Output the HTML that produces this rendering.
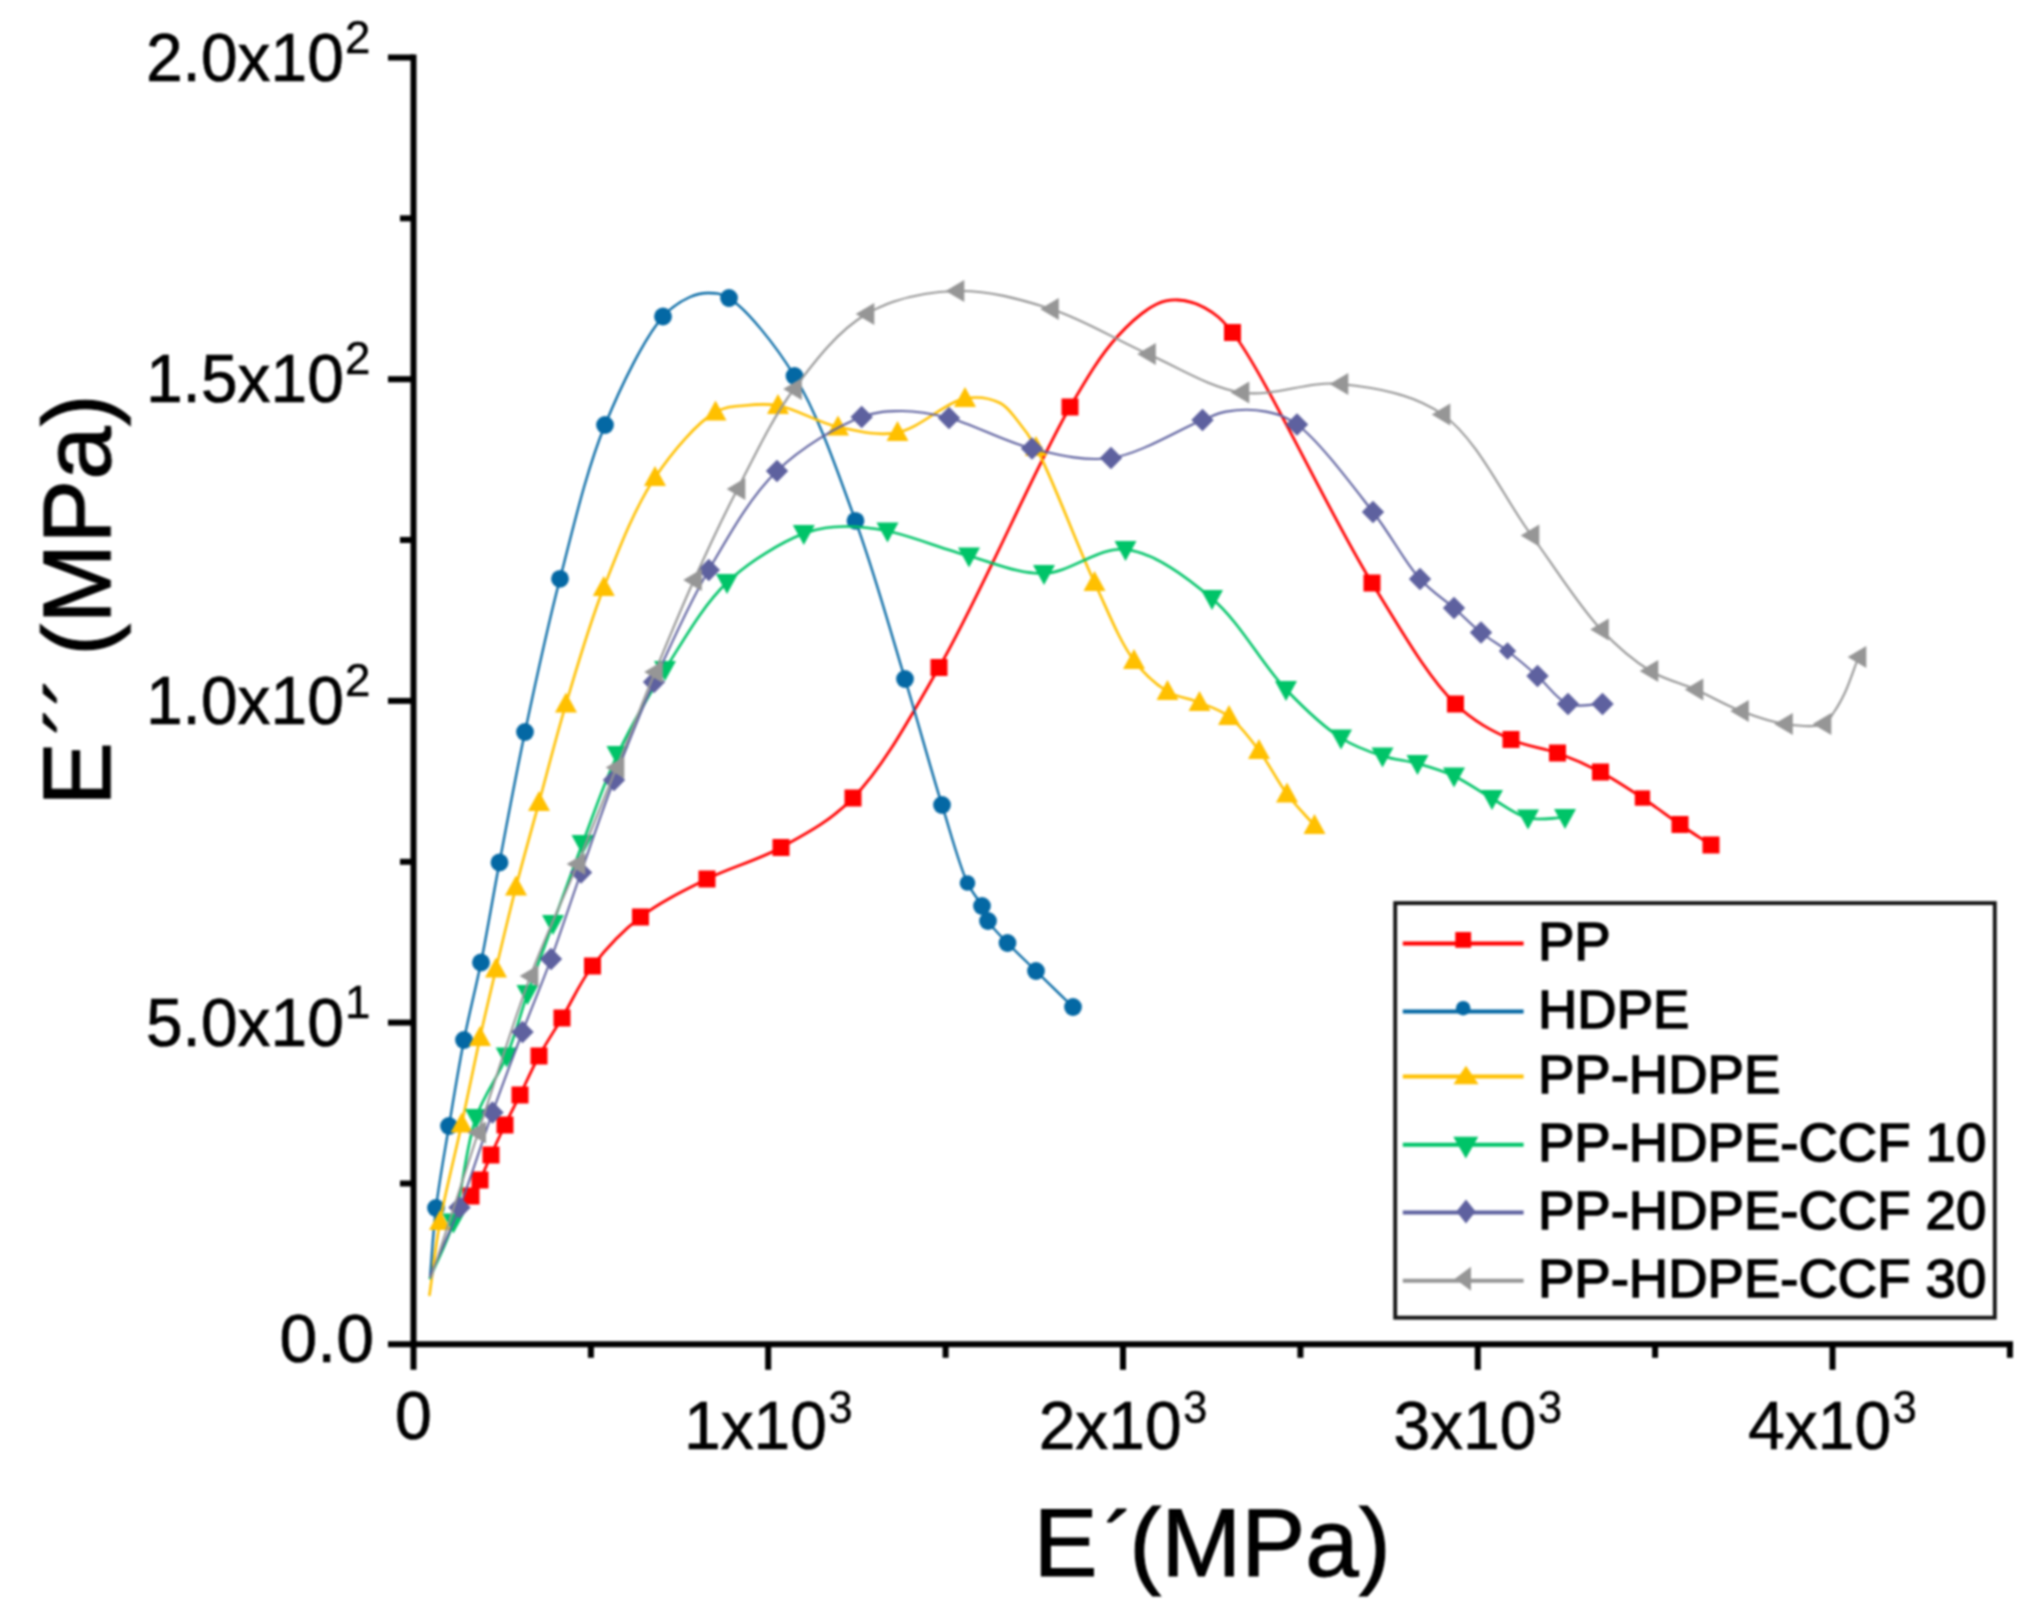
<!DOCTYPE html>
<html lang="en"><head><meta charset="utf-8"><title>E&#180;&#180; vs E&#180;</title>
<style>
html,body{margin:0;padding:0;background:#fff;}
body{width:2040px;height:1620px;overflow:hidden;}
svg{display:block;}
text{font-family:"Liberation Sans",Arial,Helvetica,sans-serif;fill:#000;}
.tk{font-size:69px;stroke:#000;stroke-width:0.7px;}
.sp{font-size:47px;stroke:#000;stroke-width:0.5px;}
.ti{font-size:96px;stroke:#000;stroke-width:1.1px;}
.lg{font-size:54.5px;stroke:#000;stroke-width:1.5px;}
</style></head><body>
<svg width="2040" height="1620" viewBox="0 0 2040 1620">
<defs><filter id="soft" x="-2%" y="-2%" width="104%" height="104%" color-interpolation-filters="sRGB"><feGaussianBlur stdDeviation="0.8"/></filter></defs>
<rect width="2040" height="1620" fill="#fff"/>
<g filter="url(#soft)">
<g>
<path d="M471.0 1196.0 C474.0 1190.7 477.0 1186.0 480.0 1180.0 C483.7 1172.7 487.1 1163.7 491.0 1155.0 C495.3 1145.4 500.2 1135.0 505.0 1125.0 C509.8 1115.0 514.7 1105.7 520.0 1095.0 C526.0 1082.9 532.0 1068.8 539.0 1056.0 C546.0 1043.1 553.8 1031.7 562.0 1018.0 C571.5 1002.1 580.0 982.4 592.5 966.0 C605.8 948.6 622.1 931.2 640.5 917.0 C660.0 902.0 683.9 890.5 707.0 879.0 C730.7 867.2 757.1 860.6 781.0 847.5 C805.9 833.8 830.1 821.4 853.0 798.0 C883.6 766.8 908.9 719.5 939.0 667.5 C980.1 596.5 1035.8 465.6 1070.0 407.0 C1088.4 375.5 1100.6 355.1 1117.0 337.0 C1129.9 322.8 1145.1 309.6 1157.0 304.0 C1164.6 300.4 1170.6 299.6 1178.0 300.0 C1186.5 300.4 1196.5 303.2 1205.0 308.0 C1214.8 313.4 1221.4 318.6 1232.5 332.5 C1263.6 371.3 1329.9 515.3 1372.0 583.0 C1402.1 631.5 1427.8 677.2 1455.5 704.0 C1474.1 721.9 1492.7 731.2 1511.0 739.5 C1526.7 746.6 1542.5 747.5 1557.5 753.0 C1572.3 758.4 1586.5 764.6 1600.5 772.0 C1614.9 779.6 1629.0 789.1 1642.5 798.0 C1655.5 806.6 1668.0 816.3 1680.0 824.5 C1690.8 831.9 1700.7 838.2 1711.0 845.0" fill="none" stroke="#FF0000" stroke-width="2.8" stroke-linecap="round" stroke-linejoin="round"/>
<rect x="462.5" y="1187.5" width="17.0" height="17.0" fill="#FF0000"/>
<rect x="471.5" y="1171.5" width="17.0" height="17.0" fill="#FF0000"/>
<rect x="482.5" y="1146.5" width="17.0" height="17.0" fill="#FF0000"/>
<rect x="496.5" y="1116.5" width="17.0" height="17.0" fill="#FF0000"/>
<rect x="511.5" y="1086.5" width="17.0" height="17.0" fill="#FF0000"/>
<rect x="530.5" y="1047.5" width="17.0" height="17.0" fill="#FF0000"/>
<rect x="553.5" y="1009.5" width="17.0" height="17.0" fill="#FF0000"/>
<rect x="584.0" y="957.5" width="17.0" height="17.0" fill="#FF0000"/>
<rect x="632.0" y="908.5" width="17.0" height="17.0" fill="#FF0000"/>
<rect x="698.5" y="870.5" width="17.0" height="17.0" fill="#FF0000"/>
<rect x="772.5" y="839.0" width="17.0" height="17.0" fill="#FF0000"/>
<rect x="844.5" y="789.5" width="17.0" height="17.0" fill="#FF0000"/>
<rect x="930.5" y="659.0" width="17.0" height="17.0" fill="#FF0000"/>
<rect x="1061.5" y="398.5" width="17.0" height="17.0" fill="#FF0000"/>
<rect x="1224.0" y="324.0" width="17.0" height="17.0" fill="#FF0000"/>
<rect x="1363.5" y="574.5" width="17.0" height="17.0" fill="#FF0000"/>
<rect x="1447.0" y="695.5" width="17.0" height="17.0" fill="#FF0000"/>
<rect x="1502.5" y="731.0" width="17.0" height="17.0" fill="#FF0000"/>
<rect x="1549.0" y="744.5" width="17.0" height="17.0" fill="#FF0000"/>
<rect x="1592.0" y="763.5" width="17.0" height="17.0" fill="#FF0000"/>
<rect x="1634.8" y="790.4" width="15.3" height="15.3" fill="#FF0000"/>
<rect x="1671.5" y="816.0" width="17.0" height="17.0" fill="#FF0000"/>
<rect x="1702.5" y="836.5" width="17.0" height="17.0" fill="#FF0000"/>
</g>
<g>
<path d="M430.0 1278.0 C432.0 1254.7 433.0 1232.2 436.0 1208.0 C439.2 1181.7 444.4 1153.6 449.0 1126.0 C453.7 1097.7 458.5 1067.9 464.0 1040.0 C469.2 1013.4 475.4 990.0 481.0 962.5 C487.3 931.3 492.7 898.0 499.5 862.5 C507.2 821.9 515.4 777.2 525.0 732.0 C535.4 682.9 546.7 629.7 560.0 578.8 C573.4 527.3 586.2 470.9 605.0 425.0 C621.4 384.7 645.0 337.1 663.0 316.5 C672.4 305.8 681.5 300.8 690.0 297.0 C696.3 294.2 701.8 293.0 708.0 293.0 C714.7 293.1 721.0 293.1 729.0 298.0 C746.3 308.7 775.1 344.3 794.5 376.0 C818.6 415.4 837.3 471.0 855.5 520.8 C874.2 571.9 889.9 629.2 905.0 679.0 C918.4 723.3 930.5 768.1 942.0 805.0 C951.1 834.2 959.1 865.0 967.5 883.0 C972.4 893.3 978.4 899.0 982.0 906.0 C984.8 911.4 984.8 915.8 988.0 921.0 C992.3 928.0 1000.2 935.4 1007.5 943.0 C1016.0 951.9 1025.9 961.1 1036.0 971.0 C1047.5 982.3 1060.7 995.0 1073.0 1007.0" fill="none" stroke="#0468A4" stroke-width="2.3" stroke-linecap="round" stroke-linejoin="round"/>
<circle cx="436.0" cy="1208.0" r="8.9" fill="#0468A4"/>
<circle cx="449.0" cy="1126.0" r="8.9" fill="#0468A4"/>
<circle cx="464.0" cy="1040.0" r="8.9" fill="#0468A4"/>
<circle cx="481.0" cy="962.5" r="8.9" fill="#0468A4"/>
<circle cx="499.5" cy="862.5" r="8.9" fill="#0468A4"/>
<circle cx="525.0" cy="732.0" r="8.9" fill="#0468A4"/>
<circle cx="560.0" cy="578.8" r="8.9" fill="#0468A4"/>
<circle cx="605.0" cy="425.0" r="8.9" fill="#0468A4"/>
<circle cx="663.0" cy="316.5" r="8.9" fill="#0468A4"/>
<circle cx="729.0" cy="298.0" r="8.9" fill="#0468A4"/>
<circle cx="794.5" cy="376.0" r="8.9" fill="#0468A4"/>
<circle cx="855.5" cy="520.8" r="8.9" fill="#0468A4"/>
<circle cx="905.0" cy="679.0" r="8.9" fill="#0468A4"/>
<circle cx="942.0" cy="805.0" r="8.9" fill="#0468A4"/>
<circle cx="967.5" cy="883.0" r="7.8" fill="#0468A4"/>
<circle cx="982.0" cy="906.0" r="8.9" fill="#0468A4"/>
<circle cx="988.0" cy="921.0" r="8.9" fill="#0468A4"/>
<circle cx="1007.5" cy="943.0" r="8.9" fill="#0468A4"/>
<circle cx="1036.0" cy="971.0" r="8.9" fill="#0468A4"/>
<circle cx="1073.0" cy="1007.0" r="8.9" fill="#0468A4"/>
</g>
<g>
<path d="M429.5 1295.0 C433.0 1270.5 435.2 1247.6 440.0 1221.5 C445.5 1191.2 454.9 1155.5 461.7 1124.0 C468.1 1094.3 474.0 1064.6 480.0 1037.5 C485.4 1013.3 490.3 992.8 496.0 969.0 C502.2 942.9 508.9 914.5 516.0 887.0 C523.2 859.0 531.0 831.7 539.0 802.5 C547.6 770.9 555.8 738.1 566.0 704.0 C577.2 666.7 588.9 625.3 603.8 587.5 C618.6 549.8 634.4 508.1 655.0 477.5 C672.6 451.2 697.4 422.4 715.5 412.0 C726.0 406.0 734.8 406.6 745.0 405.5 C755.6 404.3 765.6 403.3 778.0 405.5 C795.3 408.5 817.8 422.5 838.0 427.0 C857.6 431.3 877.6 436.3 897.5 432.5 C919.9 428.3 945.7 401.8 965.0 398.5 C978.2 396.2 991.0 398.6 1000.0 403.0 C1007.5 406.7 1011.5 413.4 1017.0 420.0 C1023.5 427.8 1028.7 434.4 1036.0 447.5 C1051.3 475.0 1076.4 543.9 1094.5 582.5 C1108.5 612.3 1119.5 641.3 1134.0 660.5 C1144.5 674.4 1155.7 684.4 1167.5 691.5 C1177.7 697.6 1189.2 698.3 1199.5 702.5 C1209.7 706.6 1219.8 709.6 1229.0 716.5 C1239.9 724.7 1249.6 738.1 1259.0 750.5 C1269.0 763.8 1277.2 781.0 1287.0 794.0 C1295.8 805.7 1305.3 815.0 1314.5 825.5" fill="none" stroke="#FFC000" stroke-width="2.6" stroke-linecap="round" stroke-linejoin="round"/>
<path d="M440.0 1210.0 L451.0 1230.0 L429.0 1230.0Z" fill="#FFC000"/>
<path d="M461.7 1112.5 L472.7 1132.5 L450.7 1132.5Z" fill="#FFC000"/>
<path d="M480.0 1026.0 L491.0 1046.0 L469.0 1046.0Z" fill="#FFC000"/>
<path d="M496.0 957.5 L507.0 977.5 L485.0 977.5Z" fill="#FFC000"/>
<path d="M516.0 875.5 L527.0 895.5 L505.0 895.5Z" fill="#FFC000"/>
<path d="M539.0 791.0 L550.0 811.0 L528.0 811.0Z" fill="#FFC000"/>
<path d="M566.0 692.5 L577.0 712.5 L555.0 712.5Z" fill="#FFC000"/>
<path d="M603.8 576.0 L614.8 596.0 L592.8 596.0Z" fill="#FFC000"/>
<path d="M655.0 466.0 L666.0 486.0 L644.0 486.0Z" fill="#FFC000"/>
<path d="M715.5 400.5 L726.5 420.5 L704.5 420.5Z" fill="#FFC000"/>
<path d="M778.0 394.0 L789.0 414.0 L767.0 414.0Z" fill="#FFC000"/>
<path d="M838.0 415.5 L849.0 435.5 L827.0 435.5Z" fill="#FFC000"/>
<path d="M897.5 421.0 L908.5 441.0 L886.5 441.0Z" fill="#FFC000"/>
<path d="M965.0 387.0 L976.0 407.0 L954.0 407.0Z" fill="#FFC000"/>
<path d="M1036.0 436.0 L1047.0 456.0 L1025.0 456.0Z" fill="#FFC000"/>
<path d="M1094.5 571.0 L1105.5 591.0 L1083.5 591.0Z" fill="#FFC000"/>
<path d="M1134.0 649.0 L1145.0 669.0 L1123.0 669.0Z" fill="#FFC000"/>
<path d="M1167.5 680.0 L1178.5 700.0 L1156.5 700.0Z" fill="#FFC000"/>
<path d="M1199.5 691.0 L1210.5 711.0 L1188.5 711.0Z" fill="#FFC000"/>
<path d="M1229.0 705.0 L1240.0 725.0 L1218.0 725.0Z" fill="#FFC000"/>
<path d="M1259.0 739.0 L1270.0 759.0 L1248.0 759.0Z" fill="#FFC000"/>
<path d="M1287.0 782.5 L1298.0 802.5 L1276.0 802.5Z" fill="#FFC000"/>
<path d="M1314.5 814.0 L1325.5 834.0 L1303.5 834.0Z" fill="#FFC000"/>
</g>
<g>
<path d="M430.0 1278.0 C437.8 1259.3 446.6 1243.9 453.5 1222.0 C462.6 1192.9 465.6 1147.2 476.0 1117.5 C484.4 1093.7 498.1 1076.9 506.7 1056.0 C515.2 1035.5 520.1 1014.9 527.5 993.5 C535.4 970.8 544.2 947.6 553.0 923.5 C562.5 897.7 572.1 870.8 582.5 843.5 C593.5 814.6 603.8 783.4 617.5 754.5 C631.3 725.4 647.3 697.5 665.0 669.5 C683.6 640.2 702.7 605.6 727.0 582.5 C749.5 561.2 781.3 542.2 803.8 533.5 C819.0 527.6 831.1 526.9 845.0 526.5 C859.0 526.1 871.2 527.7 887.5 531.0 C910.5 535.7 942.3 548.8 969.0 556.0 C994.4 562.9 1018.6 574.2 1044.0 573.5 C1070.7 572.7 1098.6 546.4 1125.5 549.5 C1154.6 552.8 1186.1 576.6 1212.0 598.5 C1240.1 622.3 1262.2 664.7 1286.0 689.5 C1304.9 709.1 1323.1 726.6 1341.0 738.0 C1355.1 746.9 1369.0 751.7 1382.5 756.0 C1394.5 759.8 1405.8 760.3 1417.5 763.5 C1429.6 766.9 1442.0 770.5 1454.0 776.0 C1466.8 781.9 1479.4 791.4 1492.0 798.5 C1504.1 805.4 1515.5 814.9 1528.0 818.0 C1539.9 820.9 1552.7 817.7 1565.0 817.5" fill="none" stroke="#00C468" stroke-width="2.6" stroke-linecap="round" stroke-linejoin="round"/>
<path d="M453.5 1233.5 L464.5 1213.5 L442.5 1213.5Z" fill="#00C468"/>
<path d="M476.0 1129.0 L487.0 1109.0 L465.0 1109.0Z" fill="#00C468"/>
<path d="M506.7 1067.5 L517.7 1047.5 L495.7 1047.5Z" fill="#00C468"/>
<path d="M527.5 1005.0 L538.5 985.0 L516.5 985.0Z" fill="#00C468"/>
<path d="M553.0 935.0 L564.0 915.0 L542.0 915.0Z" fill="#00C468"/>
<path d="M582.5 855.0 L593.5 835.0 L571.5 835.0Z" fill="#00C468"/>
<path d="M617.5 766.0 L628.5 746.0 L606.5 746.0Z" fill="#00C468"/>
<path d="M665.0 681.0 L676.0 661.0 L654.0 661.0Z" fill="#00C468"/>
<path d="M727.0 594.0 L738.0 574.0 L716.0 574.0Z" fill="#00C468"/>
<path d="M803.8 545.0 L814.8 525.0 L792.8 525.0Z" fill="#00C468"/>
<path d="M887.5 542.5 L898.5 522.5 L876.5 522.5Z" fill="#00C468"/>
<path d="M969.0 567.5 L980.0 547.5 L958.0 547.5Z" fill="#00C468"/>
<path d="M1044.0 585.0 L1055.0 565.0 L1033.0 565.0Z" fill="#00C468"/>
<path d="M1125.5 561.0 L1136.5 541.0 L1114.5 541.0Z" fill="#00C468"/>
<path d="M1212.0 610.0 L1223.0 590.0 L1201.0 590.0Z" fill="#00C468"/>
<path d="M1286.0 701.0 L1297.0 681.0 L1275.0 681.0Z" fill="#00C468"/>
<path d="M1341.0 749.5 L1352.0 729.5 L1330.0 729.5Z" fill="#00C468"/>
<path d="M1382.5 767.5 L1393.5 747.5 L1371.5 747.5Z" fill="#00C468"/>
<path d="M1417.5 775.0 L1428.5 755.0 L1406.5 755.0Z" fill="#00C468"/>
<path d="M1454.0 787.5 L1465.0 767.5 L1443.0 767.5Z" fill="#00C468"/>
<path d="M1492.0 810.0 L1503.0 790.0 L1481.0 790.0Z" fill="#00C468"/>
<path d="M1528.0 829.5 L1539.0 809.5 L1517.0 809.5Z" fill="#00C468"/>
<path d="M1565.0 829.0 L1576.0 809.0 L1554.0 809.0Z" fill="#00C468"/>
</g>
<g>
<path d="M430.0 1276.0 C439.8 1253.2 449.8 1232.4 459.5 1207.5 C470.7 1178.6 481.6 1142.8 492.5 1112.5 C502.6 1084.5 512.5 1058.1 522.5 1032.0 C532.0 1007.0 541.6 984.5 551.0 959.0 C561.1 931.5 570.7 901.8 581.0 872.5 C591.7 842.2 602.1 811.1 614.0 780.0 C626.4 747.7 639.0 715.5 654.0 682.0 C670.3 645.6 688.0 605.5 708.8 570.0 C729.1 535.2 750.0 497.0 777.0 471.0 C801.7 447.2 837.8 425.9 861.7 417.0 C876.9 411.3 888.1 411.0 902.0 411.0 C917.1 411.0 931.4 413.5 949.0 418.0 C973.0 424.1 1004.3 441.8 1032.0 448.5 C1058.3 454.8 1084.2 461.7 1111.0 458.0 C1140.9 453.9 1181.9 427.9 1202.5 420.0 C1212.8 416.0 1217.0 413.2 1226.0 411.6 C1237.4 409.6 1253.7 409.2 1266.0 411.6 C1277.2 413.8 1285.5 416.2 1297.0 424.5 C1318.3 439.9 1351.3 484.2 1373.0 512.0 C1391.2 535.3 1404.5 562.0 1420.0 579.0 C1431.4 591.6 1443.4 598.7 1454.0 608.0 C1463.6 616.4 1471.8 625.2 1481.0 632.5 C1489.7 639.4 1498.5 644.2 1507.5 651.0 C1517.3 658.5 1527.6 667.3 1537.5 676.0 C1547.7 685.0 1556.6 699.5 1568.0 704.0 C1578.4 708.1 1591.0 704.0 1602.5 704.0" fill="none" stroke="#5E619F" stroke-width="2.1" stroke-linecap="round" stroke-linejoin="round"/>
<path d="M459.5 1196.3 L470.7 1207.5 L459.5 1218.7 L448.3 1207.5Z" fill="#5E619F"/>
<path d="M492.5 1101.3 L503.7 1112.5 L492.5 1123.7 L481.3 1112.5Z" fill="#5E619F"/>
<path d="M522.5 1020.8 L533.7 1032.0 L522.5 1043.2 L511.3 1032.0Z" fill="#5E619F"/>
<path d="M551.0 947.8 L562.2 959.0 L551.0 970.2 L539.8 959.0Z" fill="#5E619F"/>
<path d="M581.0 861.3 L592.2 872.5 L581.0 883.7 L569.8 872.5Z" fill="#5E619F"/>
<path d="M614.0 768.8 L625.2 780.0 L614.0 791.2 L602.8 780.0Z" fill="#5E619F"/>
<path d="M654.0 670.8 L665.2 682.0 L654.0 693.2 L642.8 682.0Z" fill="#5E619F"/>
<path d="M708.8 558.8 L720.0 570.0 L708.8 581.2 L697.5 570.0Z" fill="#5E619F"/>
<path d="M777.0 459.8 L788.2 471.0 L777.0 482.2 L765.8 471.0Z" fill="#5E619F"/>
<path d="M861.7 405.8 L872.9 417.0 L861.7 428.2 L850.5 417.0Z" fill="#5E619F"/>
<path d="M949.0 406.8 L960.2 418.0 L949.0 429.2 L937.8 418.0Z" fill="#5E619F"/>
<path d="M1032.0 437.3 L1043.2 448.5 L1032.0 459.7 L1020.8 448.5Z" fill="#5E619F"/>
<path d="M1111.0 446.8 L1122.2 458.0 L1111.0 469.2 L1099.8 458.0Z" fill="#5E619F"/>
<path d="M1202.5 408.8 L1213.7 420.0 L1202.5 431.2 L1191.3 420.0Z" fill="#5E619F"/>
<path d="M1297.0 413.3 L1308.2 424.5 L1297.0 435.7 L1285.8 424.5Z" fill="#5E619F"/>
<path d="M1373.0 500.8 L1384.2 512.0 L1373.0 523.2 L1361.8 512.0Z" fill="#5E619F"/>
<path d="M1420.0 567.8 L1431.2 579.0 L1420.0 590.2 L1408.8 579.0Z" fill="#5E619F"/>
<path d="M1454.0 596.8 L1465.2 608.0 L1454.0 619.2 L1442.8 608.0Z" fill="#5E619F"/>
<path d="M1481.0 621.3 L1492.2 632.5 L1481.0 643.7 L1469.8 632.5Z" fill="#5E619F"/>
<path d="M1507.5 642.3 L1516.2 651.0 L1507.5 659.7 L1498.8 651.0Z" fill="#5E619F"/>
<path d="M1537.5 664.8 L1548.7 676.0 L1537.5 687.2 L1526.3 676.0Z" fill="#5E619F"/>
<path d="M1568.0 692.8 L1579.2 704.0 L1568.0 715.2 L1556.8 704.0Z" fill="#5E619F"/>
<path d="M1602.5 692.8 L1613.7 704.0 L1602.5 715.2 L1591.3 704.0Z" fill="#5E619F"/>
</g>
<g>
<path d="M431.0 1278.0 C446.7 1229.5 462.0 1181.8 478.2 1132.5 C495.1 1081.2 512.6 1023.5 530.5 976.0 C545.8 935.2 562.7 900.0 577.5 864.0 C591.2 830.7 603.5 799.6 616.5 767.5 C629.4 735.6 642.0 703.5 655.0 672.0 C667.8 641.0 680.3 610.4 694.0 580.0 C707.8 549.4 721.5 519.8 737.5 489.0 C754.6 456.2 771.8 418.7 794.0 389.0 C815.1 360.7 838.4 330.3 866.5 314.0 C893.0 298.6 926.0 291.9 956.5 291.0 C987.5 290.0 1019.9 299.0 1051.0 309.0 C1083.8 319.5 1115.8 339.9 1148.0 354.0 C1179.3 367.7 1209.3 387.5 1241.5 392.5 C1273.5 397.4 1307.6 380.6 1340.5 384.0 C1374.6 387.5 1412.6 393.5 1442.5 414.5 C1478.0 439.5 1503.6 497.7 1531.5 535.5 C1556.1 568.8 1578.4 605.5 1601.0 629.5 C1617.8 647.4 1633.6 660.8 1650.5 671.0 C1665.2 679.9 1680.5 682.9 1695.5 689.5 C1710.7 696.2 1725.7 705.2 1741.0 711.0 C1755.6 716.6 1770.7 721.9 1785.0 724.0 C1798.1 725.9 1815.2 727.8 1823.5 724.0 C1828.9 721.6 1830.7 716.7 1834.0 712.0 C1837.9 706.5 1841.4 700.1 1845.0 692.5 C1849.7 682.6 1854.0 668.8 1858.5 657.0" fill="none" stroke="#969696" stroke-width="2.1" stroke-linecap="round" stroke-linejoin="round"/>
<path d="M467.4 1132.5 L486.0 1121.5 L486.0 1143.5Z" fill="#969696"/>
<path d="M519.7 976.0 L538.3 965.0 L538.3 987.0Z" fill="#969696"/>
<path d="M566.7 864.0 L585.3 853.0 L585.3 875.0Z" fill="#969696"/>
<path d="M605.7 767.5 L624.3 756.5 L624.3 778.5Z" fill="#969696"/>
<path d="M644.2 672.0 L662.8 661.0 L662.8 683.0Z" fill="#969696"/>
<path d="M683.2 580.0 L701.8 569.0 L701.8 591.0Z" fill="#969696"/>
<path d="M726.7 489.0 L745.3 478.0 L745.3 500.0Z" fill="#969696"/>
<path d="M783.2 389.0 L801.8 378.0 L801.8 400.0Z" fill="#969696"/>
<path d="M855.7 314.0 L874.3 303.0 L874.3 325.0Z" fill="#969696"/>
<path d="M945.7 291.0 L964.3 280.0 L964.3 302.0Z" fill="#969696"/>
<path d="M1040.2 309.0 L1058.8 298.0 L1058.8 320.0Z" fill="#969696"/>
<path d="M1137.2 354.0 L1155.8 343.0 L1155.8 365.0Z" fill="#969696"/>
<path d="M1230.7 392.5 L1249.3 381.5 L1249.3 403.5Z" fill="#969696"/>
<path d="M1329.7 384.0 L1348.3 373.0 L1348.3 395.0Z" fill="#969696"/>
<path d="M1431.7 414.5 L1450.3 403.5 L1450.3 425.5Z" fill="#969696"/>
<path d="M1520.7 535.5 L1539.3 524.5 L1539.3 546.5Z" fill="#969696"/>
<path d="M1590.2 629.5 L1608.8 618.5 L1608.8 640.5Z" fill="#969696"/>
<path d="M1639.7 671.0 L1658.3 660.0 L1658.3 682.0Z" fill="#969696"/>
<path d="M1684.7 689.5 L1703.3 678.5 L1703.3 700.5Z" fill="#969696"/>
<path d="M1730.2 711.0 L1748.8 700.0 L1748.8 722.0Z" fill="#969696"/>
<path d="M1774.2 724.0 L1792.8 713.0 L1792.8 735.0Z" fill="#969696"/>
<path d="M1812.7 724.0 L1831.3 713.0 L1831.3 735.0Z" fill="#969696"/>
<path d="M1847.7 657.0 L1866.3 646.0 L1866.3 668.0Z" fill="#969696"/>
</g>
<g stroke="#000" stroke-width="6" fill="none">
<path d="M413.5 54.5 V1369.8"/>
<path d="M388.0 1344.3 H2013.0"/>
<path d="M400.0 1183.5 H413.5"/>
<path d="M388.0 1022.6 H413.5"/>
<path d="M400.0 861.8 H413.5"/>
<path d="M388.0 700.9 H413.5"/>
<path d="M400.0 540.0 H413.5"/>
<path d="M388.0 379.2 H413.5"/>
<path d="M400.0 218.3 H413.5"/>
<path d="M388.0 57.5 H413.5"/>
<path d="M590.9 1344.3 V1357.8"/>
<path d="M768.2 1344.3 V1369.8"/>
<path d="M945.6 1344.3 V1357.8"/>
<path d="M1123.0 1344.3 V1369.8"/>
<path d="M1300.4 1344.3 V1357.8"/>
<path d="M1477.8 1344.3 V1369.8"/>
<path d="M1655.1 1344.3 V1357.8"/>
<path d="M1832.5 1344.3 V1369.8"/>
<path d="M2009.9 1344.3 V1357.8"/>
</g>
<text class="tk" transform="translate(343.8 80.5) scale(0.955 1)" text-anchor="end">2.0x10</text>
<text class="sp" transform="translate(345.0 52.5) scale(0.970 1)" text-anchor="start">2</text>
<text class="tk" transform="translate(343.8 402.2) scale(0.955 1)" text-anchor="end">1.5x10</text>
<text class="sp" transform="translate(345.0 374.2) scale(0.970 1)" text-anchor="start">2</text>
<text class="tk" transform="translate(343.8 723.9) scale(0.955 1)" text-anchor="end">1.0x10</text>
<text class="sp" transform="translate(345.0 695.9) scale(0.970 1)" text-anchor="start">2</text>
<text class="tk" transform="translate(343.8 1045.6) scale(0.955 1)" text-anchor="end">5.0x10</text>
<text class="sp" transform="translate(345.0 1017.6) scale(0.970 1)" text-anchor="start">1</text>
<text class="tk" transform="translate(374.0 1361.6) scale(0.985 1)" text-anchor="end">0.0</text>
<text class="tk" transform="translate(413.5 1439.3) scale(0.960 1)" text-anchor="middle">0</text>
<text class="tk" transform="translate(826.9 1449.0) scale(0.955 1)" text-anchor="end">1x10</text>
<text class="sp" transform="translate(828.5 1422.6) scale(0.920 1)" text-anchor="start">3</text>
<text class="tk" transform="translate(1181.6 1449.0) scale(0.955 1)" text-anchor="end">2x10</text>
<text class="sp" transform="translate(1183.3 1422.6) scale(0.920 1)" text-anchor="start">3</text>
<text class="tk" transform="translate(1536.3 1449.0) scale(0.955 1)" text-anchor="end">3x10</text>
<text class="sp" transform="translate(1538.0 1422.6) scale(0.920 1)" text-anchor="start">3</text>
<text class="tk" transform="translate(1891.1 1449.0) scale(0.955 1)" text-anchor="end">4x10</text>
<text class="sp" transform="translate(1892.8 1422.6) scale(0.920 1)" text-anchor="start">3</text>
<text class="ti" transform="translate(1033.5 1576.3) scale(1.000 1)" text-anchor="start">E<tspan dx="7" dy="-3.5" font-size="88">&#180;</tspan><tspan dx="-4.5" dy="3.5">(MPa)</tspan></text>
<text class="ti" transform="translate(110.3 806) rotate(-90)">E<tspan dx="7" dy="-3.5" font-size="88">&#180;&#180;</tspan><tspan dx="-6" dy="3.5"> (MPa)</tspan></text>
<rect x="1395.2" y="903.1" width="599.6" height="414.6" fill="#fff" stroke="#161616" stroke-width="3.9"/>
<path d="M1402.8 943.4 H1523.6" stroke="#FF0000" stroke-width="4" fill="none"/>
<rect x="1455.3" y="932.0" width="15.8" height="15.8" fill="#FF0000"/>
<text class="lg" transform="translate(1538.0 960.3) scale(1.000 1)" text-anchor="start">PP</text>
<path d="M1402.8 1011.5 H1523.6" stroke="#0468A4" stroke-width="4" fill="none"/>
<circle cx="1463.2" cy="1008.2" r="7.3" fill="#0468A4"/>
<text class="lg" transform="translate(1538.0 1028.2) scale(1.000 1)" text-anchor="start">HDPE</text>
<path d="M1402.8 1076.4 H1523.6" stroke="#FFC000" stroke-width="4" fill="none"/>
<path d="M1466.0 1065.8 L1478.6 1084.2 L1453.4 1084.2Z" fill="#FFC000"/>
<text class="lg" transform="translate(1538.0 1093.3) scale(1.000 1)" text-anchor="start">PP-HDPE</text>
<path d="M1402.8 1144.7 H1523.6" stroke="#00C468" stroke-width="4" fill="none"/>
<path d="M1465.8 1158.5 L1478.3 1136.7 L1453.3 1136.7Z" fill="#00C468"/>
<text class="lg" transform="translate(1538.0 1161.2) scale(1.000 1)" text-anchor="start">PP-HDPE-CCF 10</text>
<path d="M1402.8 1212.6 H1523.6" stroke="#5E619F" stroke-width="4" fill="none"/>
<path d="M1466.0 1199.6 L1475.6 1211.6 L1466.0 1223.6 L1456.4 1211.6Z" fill="#5E619F"/>
<text class="lg" transform="translate(1538.0 1229.0) scale(1.000 1)" text-anchor="start">PP-HDPE-CCF 20</text>
<path d="M1402.8 1280.8 H1523.6" stroke="#969696" stroke-width="4" fill="none"/>
<path d="M1454.9 1278.8 L1471.0 1266.8 L1471.0 1290.8Z" fill="#969696"/>
<text class="lg" transform="translate(1538.0 1297.0) scale(1.000 1)" text-anchor="start">PP-HDPE-CCF 30</text>
</g>
</svg>
</body></html>
